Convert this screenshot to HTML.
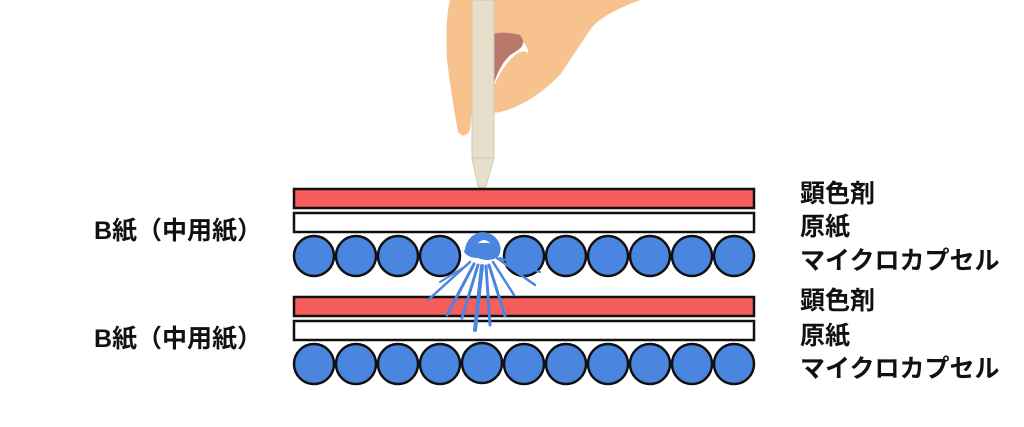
<!DOCTYPE html>
<html><head><meta charset="utf-8"><style>
body{margin:0;background:#fff;width:1024px;height:427px;overflow:hidden;position:relative;font-family:"Liberation Sans","Noto Sans CJK JP",sans-serif;font-weight:bold;color:#111}
.t{position:absolute;font-size:25px;line-height:1;white-space:nowrap}
</style></head><body>
<svg width="1024" height="427" style="position:absolute;left:0;top:0">
<path d="M450 0 L640 0 Q600 15 590 30 Q570 60 560 75 Q530 105 500 112 Q485 115 487 105 Q490 92 510 80 Q528 65 528 50 Q520 30 490 35 L478 40 L470 130 Q465 140 458 132 Q452 100 447 60 Q445 20 450 0 Z" fill="#F8C28F"/>
<path d="M474 42 Q495 28 520 35 Q528 45 515 52 Q500 60 492 90 L474 110 Z" fill="#B9786C"/>
<path d="M492 90 Q505 60 520 52 Q528 50 528 55 Q528 68 510 80 Q495 92 492 100 Z" fill="#F8C28F"/>
<rect x="472" y="0" width="22" height="158" fill="#E5DFCC" stroke="#cfc8b2" stroke-width="1"/>
<path d="M472 158 L494 158 L486 186 L482 190 L478 186 Z" fill="#E5DFCC" stroke="#cfc8b2" stroke-width="1"/>
<rect x="294" y="189" width="460" height="19" fill="#F65D5D" stroke="#111" stroke-width="2.5"/>
<rect x="294" y="213" width="460" height="19" fill="#fff" stroke="#111" stroke-width="2.5"/>
<g fill="#4A86E0" stroke="#111" stroke-width="2.5">
<circle cx="314" cy="256" r="20"/><circle cx="356" cy="256" r="20"/><circle cx="398" cy="256" r="20"/><circle cx="440" cy="256" r="20"/>
<circle cx="524" cy="256" r="20"/><circle cx="566" cy="256" r="20"/><circle cx="608" cy="256" r="20"/><circle cx="650" cy="256" r="20"/><circle cx="692" cy="256" r="20"/><circle cx="734" cy="256" r="20"/>
</g>
<rect x="294" y="297" width="460" height="19" fill="#F65D5D" stroke="#111" stroke-width="2.5"/>
<rect x="294" y="321" width="460" height="19" fill="#fff" stroke="#111" stroke-width="2.5"/>
<g fill="#4A86E0" stroke="#111" stroke-width="2.5">
<circle cx="314" cy="364" r="20"/><circle cx="356" cy="364" r="20"/><circle cx="398" cy="364" r="20"/><circle cx="440" cy="364" r="20"/><circle cx="482" cy="363" r="20"/>
<circle cx="524" cy="364" r="20"/><circle cx="566" cy="364" r="20"/><circle cx="608" cy="364" r="20"/><circle cx="650" cy="364" r="20"/><circle cx="692" cy="364" r="20"/><circle cx="734" cy="364" r="20"/>
</g>
<path d="M466 245 Q470 234 482 232 Q496 233 500 245 Q502 255 496 258 Q488 262 478 258 Q468 258 464 252 Z" fill="#4A86E0"/>
<path d="M478 243 Q484 237 490 243 Z" fill="#fff"/>
<g stroke="#4A86E0" stroke-linecap="round" fill="none">
<line x1="470" y1="262" x2="428" y2="300" stroke-width="2.5"/>
<line x1="474" y1="264" x2="447" y2="315" stroke-width="3"/>
<line x1="478" y1="265" x2="462" y2="318" stroke-width="3"/>
<line x1="482" y1="266" x2="475" y2="330" stroke-width="4"/>
<line x1="486" y1="266" x2="490" y2="325" stroke-width="3"/>
<line x1="489" y1="265" x2="505" y2="316" stroke-width="3"/>
<line x1="493" y1="262" x2="514" y2="295" stroke-width="2.5"/>
<line x1="497" y1="258" x2="535" y2="285" stroke-width="2.5"/>
<line x1="500" y1="258" x2="540" y2="272" stroke-width="2"/>
<line x1="466" y1="266" x2="440" y2="282" stroke-width="2"/>
</g>
</svg>
<div class="t" style="left:94px;top:219px">B紙（中用紙）</div>
<div class="t" style="left:94px;top:327px">B紙（中用紙）</div>
<div class="t" style="left:800px;top:182px">顕色剤</div>
<div class="t" style="left:800px;top:215px">原紙</div>
<div class="t" style="left:800px;top:249px">マイクロカプセル</div>
<div class="t" style="left:800px;top:289px">顕色剤</div>
<div class="t" style="left:800px;top:324px">原紙</div>
<div class="t" style="left:800px;top:357px">マイクロカプセル</div>
</body></html>
